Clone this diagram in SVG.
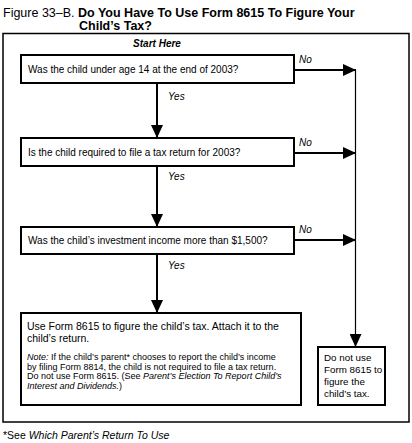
<svg xmlns="http://www.w3.org/2000/svg" width="412" height="443" viewBox="0 0 412 443">
<defs>
<marker id="ah" markerUnits="userSpaceOnUse" markerWidth="14" markerHeight="12" refX="13" refY="6" orient="auto">
<path d="M0,0 L13,6 L0,12 Z" fill="#000"/>
</marker>
<style>
text{font-family:"Liberation Sans",Arial,sans-serif;fill:#000}
.box{fill:#fff;stroke:#000;stroke-width:2}
.q{font-size:10px}
.lbl{font-size:10px;font-style:italic}
.note{font-size:9px}
.big{font-size:10.5px}
.small{font-size:9.8px}
.c{fill:none;stroke:#000;stroke-width:2}
.thin{fill:none;stroke:#000;stroke-width:1.2}
</style>
</defs>
<rect x="0" y="0" width="412" height="443" fill="#fff"/>
<g id="title">
<text x="3" y="17" font-size="12.5">Figure 33–B. <tspan font-weight="bold">Do You Have To Use Form 8615 To Figure Your</tspan></text>
<text x="79" y="30" font-size="12.5" font-weight="bold">Child’s Tax?</text>
</g>
<rect id="frame" x="3" y="33.5" width="406" height="388.5" fill="none" stroke="#000" stroke-width="1.5"/>
<text x="157" y="47" font-size="10" font-weight="bold" font-style="italic" text-anchor="middle">Start Here</text>
<g id="connectors">
<line class="c" x1="157" y1="83" x2="157" y2="138" marker-end="url(#ah)"/>
<line class="c" x1="157" y1="166" x2="157" y2="227" marker-end="url(#ah)"/>
<line class="c" x1="157" y1="254" x2="157" y2="313" marker-end="url(#ah)"/>
<line class="c" x1="294" y1="70" x2="356" y2="70" marker-end="url(#ah)"/>
<line class="c" x1="294" y1="153" x2="356" y2="153" marker-end="url(#ah)"/>
<line class="c" x1="294" y1="240" x2="356" y2="240" marker-end="url(#ah)"/>
<line class="thin" x1="355.5" y1="70" x2="355.5" y2="347" marker-end="url(#ah)"/>
<text class="lbl" x="299" y="63">No</text>
<text class="lbl" x="299" y="146">No</text>
<text class="lbl" x="299" y="233">No</text>
<text class="lbl" x="168" y="100">Yes</text>
<text class="lbl" x="168" y="180">Yes</text>
<text class="lbl" x="168" y="269">Yes</text>
</g>
<g id="q1">
<rect class="box" x="21" y="55" width="273" height="28"/>
<text class="q" x="28" y="73">Was the child under age 14 at the end of 2003?</text>
</g>
<g id="q2">
<rect class="box" x="21" y="138" width="273" height="28"/>
<text class="q" x="28" y="156">Is the child required to file a tax return for 2003?</text>
</g>
<g id="q3">
<rect class="box" x="21" y="227" width="273" height="27"/>
<text class="q" x="28" y="244">Was the child’s investment income more than $1,500?</text>
</g>
<g id="use">
<rect class="box" x="21" y="313" width="280" height="92"/>
<text class="big" x="27" y="330">Use Form 8615 to figure the child’s tax. Attach it to the</text>
<text class="big" x="27" y="342">child’s return.</text>
<text class="note" x="27" y="360"><tspan font-style="italic">Note:</tspan> If the child’s parent* chooses to report the child’s income</text>
<text class="note" x="27" y="370">by filing Form 8814, the child is not required to file a tax return.</text>
<text class="note" x="27" y="379">Do not use Form 8615. (See <tspan font-style="italic">Parent’s Election To Report Child’s</tspan></text>
<text class="note" x="27" y="389"><tspan font-style="italic">Interest and Dividends.</tspan>)</text>
</g>
<g id="donot">
<rect class="box" x="318" y="347" width="67" height="58"/>
<text class="small" x="324" y="361">Do not use</text>
<text class="small" x="324" y="373">Form 8615 to</text>
<text class="small" x="324" y="385">figure the</text>
<text class="small" x="324" y="397">child’s tax.</text>
</g>
<text x="3" y="439" font-size="10.5">*See <tspan font-style="italic">Which Parent’s Return To Use</tspan></text>
</svg>
